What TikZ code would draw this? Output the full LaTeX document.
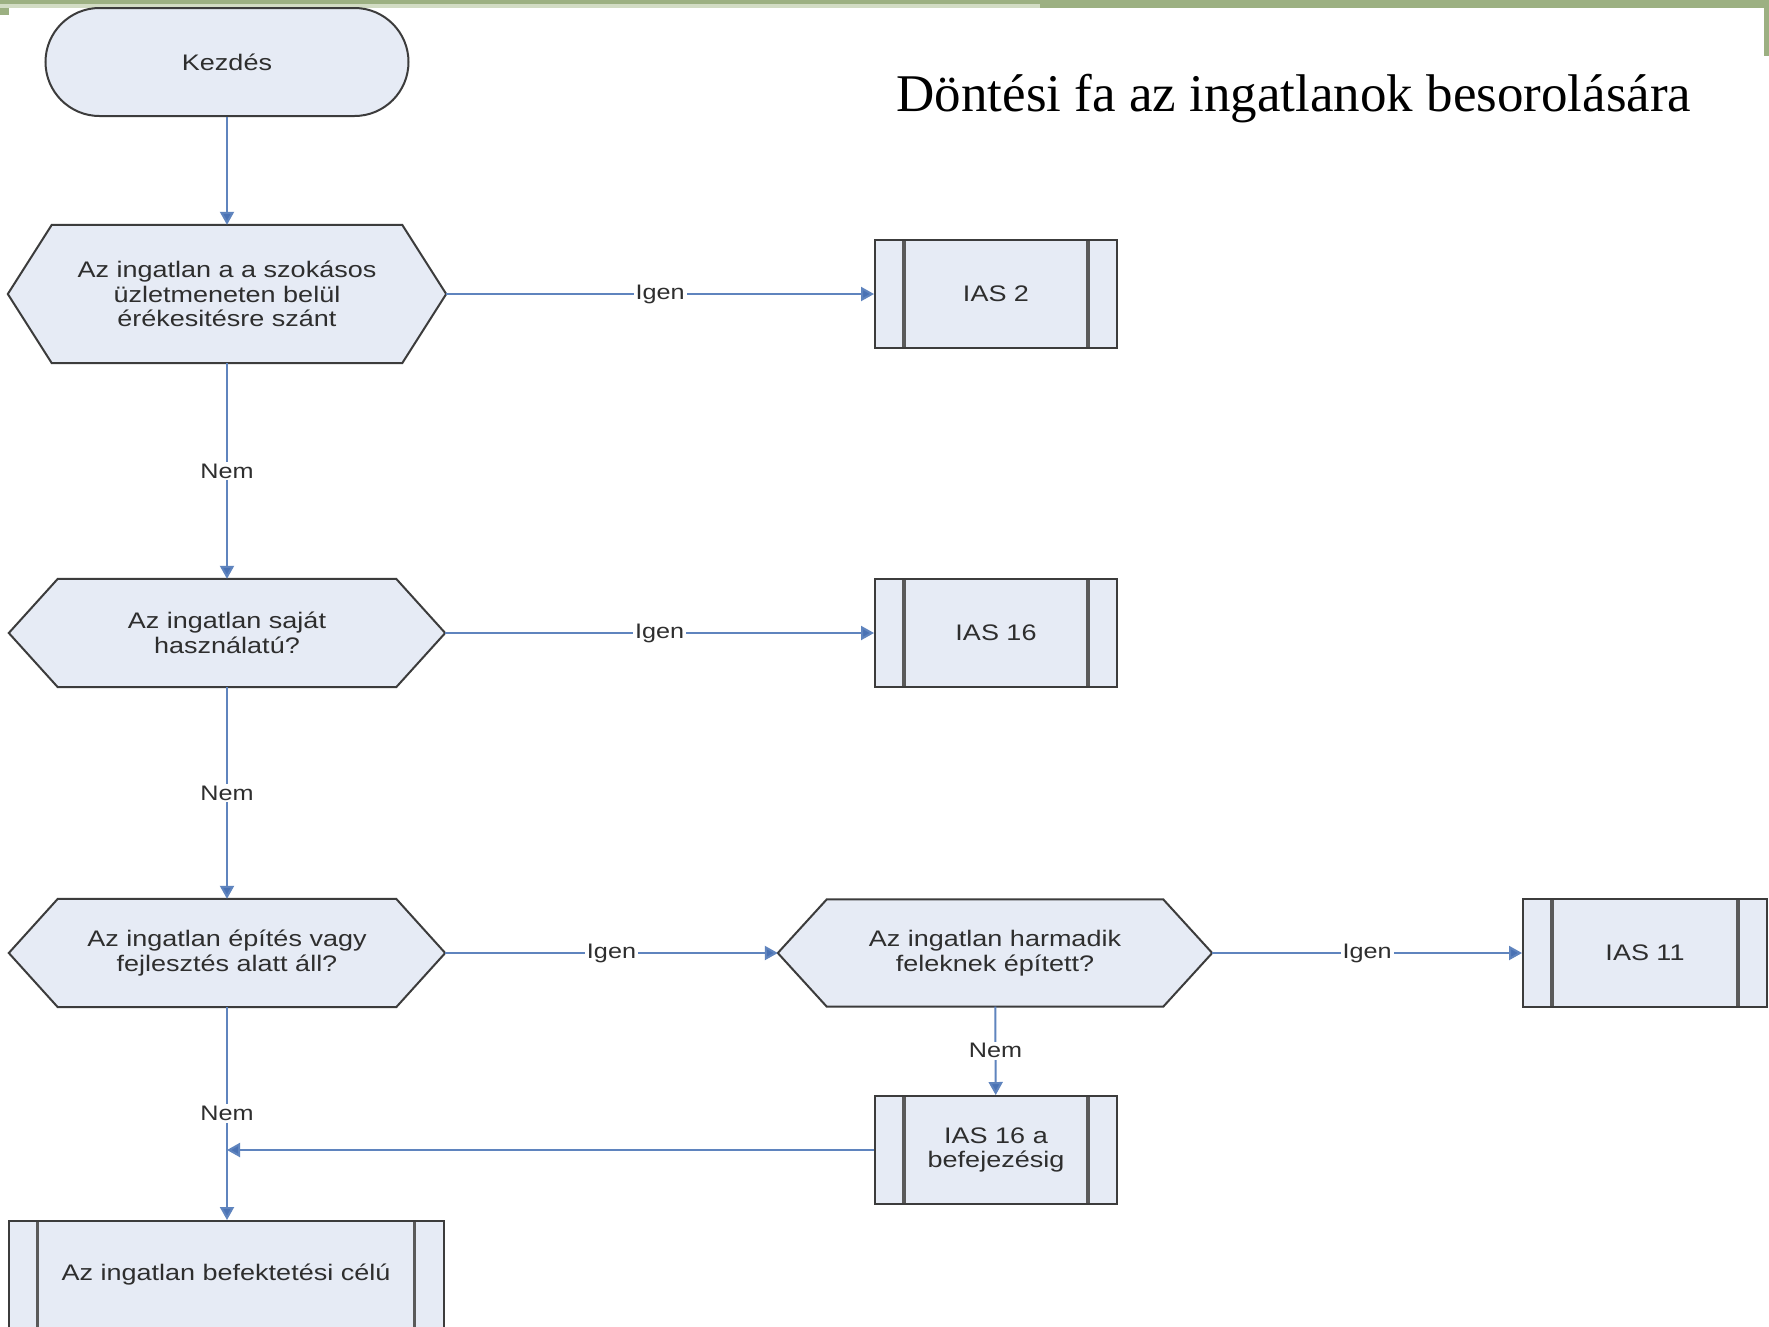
\documentclass[tikz,border=0pt]{standalone}
\usepackage{fontspec}
\setmainfont{Liberation Sans}
\newfontfamily\boxfont[FakeStretch=1.2]{Liberation Sans}
\newfontfamily\titlefont{Liberation Serif}
\usetikzlibrary{arrows.meta,backgrounds}

\definecolor{boxfill}{HTML}{E6EBF5}
\definecolor{boxline}{HTML}{3C3C3C}
\definecolor{barline}{HTML}{5A5A5A}
\definecolor{flow}{HTML}{5F84BE}
\definecolor{flowtip}{HTML}{4A72B4}
\definecolor{txt}{HTML}{2E2E2E}
\definecolor{banddark}{HTML}{9CB082}
\definecolor{bandlight}{HTML}{D2DCC4}

% hexagonal decision outline around a named node
\newcommand\hexoutline[2]{%
  \filldraw[hexline] (#1.west) -- ([xshift=#2]#1.north west) -- ([xshift=-#2]#1.north east)
    -- (#1.east) -- ([xshift=-#2]#1.south east) -- ([xshift=#2]#1.south west) -- cycle;}

\begin{document}
\begin{tikzpicture}[x=1pt,y=-1pt,
  lbl/.style={text=txt, font=\boxfont\fontsize{22.5}{24.5}\selectfont, align=center},
  terminal/.style={lbl, draw=boxline, line width=2pt, fill=boxfill,
    rounded corners=54pt, minimum width=363pt, minimum height=108pt},
  decision/.style={lbl, inner sep=0pt},
  hexline/.style={draw=boxline, line width=2pt, fill=boxfill, line join=miter},
  procbox/.style={lbl, draw=boxline, line width=2pt, fill=boxfill,
    minimum width=242pt, minimum height=108pt,
    path picture={\draw[barline, line width=3.5pt]
      ([xshift=29pt]path picture bounding box.north west) -- ([xshift=29pt]path picture bounding box.south west)
      ([xshift=-29pt]path picture bounding box.north east) -- ([xshift=-29pt]path picture bounding box.south east);}},
  flow/.style={draw=flow, line width=2pt, -{Triangle[length=13pt,width=14pt,fill=flowtip]}},
  elbl/.style={text=txt, font=\boxfont\fontsize{21}{22}\selectfont, fill=white, inner sep=2pt},
]
\useasboundingbox (0,0) rectangle (1769,1326);
\clip (0,0) rectangle (1769,1326);

\begin{scope}[on background layer]
  \fill[white] (0,0) rectangle (1769,1326);
  % banner along the top edge
  \fill[banddark] (0,0) rectangle (1769,8);
  \fill[bandlight] (0,3.5) rectangle (1040,8);
  \fill[banddark] (0,8) rectangle (9,15);
  \fill[banddark] (1764,0) rectangle (1769,56);
\end{scope}

% title
\node[font=\titlefont\fontsize{53}{60}\selectfont, text=black, anchor=base] (title)
  at (1294,111) {Döntési fa az ingatlanok besorolására};

% flow nodes
\node[terminal] (start) at (227,62) {Kezdés};

\node[decision, minimum width=438pt, minimum height=138pt] (q1) at (227,294)
  {Az ingatlan a a szokásos\\üzletmeneten belül\\érékesitésre szánt};
\node[procbox] (ias2) at (996,294) {IAS 2};

\node[decision, minimum width=436pt, minimum height=108pt] (q2) at (227,633)
  {Az ingatlan saját\\használatú?};
\node[procbox] (ias16) at (996,633) {IAS 16};

\node[decision, minimum width=436pt, minimum height=108pt] (q3) at (227,953)
  {Az ingatlan építés vagy\\fejlesztés alatt áll?};
\node[decision, minimum width=434pt, minimum height=107pt] (q4) at (995,953)
  {Az ingatlan harmadik\\feleknek épített?};
\node[procbox, minimum width=244pt] (ias11) at (1645,953) {IAS 11};

\node[procbox] (ias16a) at (996,1150) {IAS 16 a\\befejezésig};
\node[procbox, minimum width=435pt] (invest) at (226,1275) {Az ingatlan befektetési célú};

\begin{scope}[on background layer]
  \hexoutline{q1}{44pt}
  \hexoutline{q2}{49pt}
  \hexoutline{q3}{49pt}
  \hexoutline{q4}{49pt}
\end{scope}

% connectors
\draw[flow] (start) -- (q1);
\draw[flow] (q1) -- node[elbl] (y1) {Igen} (ias2);
\draw[flow] (q1) -- node[elbl] (n1) {Nem} (q2);
\draw[flow] (q2) -- node[elbl] (y2) {Igen} (ias16);
\draw[flow] (q2) -- node[elbl] (n2) {Nem} (q3);
\draw[flow] (q3) -- node[elbl] (y3) {Igen} (q4);
\draw[flow] (q4) -- node[elbl] (y4) {Igen} (ias11);
\draw[flow] (q4) -- node[elbl] (n4) {Nem} (ias16a);
\draw[flow] (q3) -- node[elbl] (n3) {Nem} (invest.north -| q3.south);
\coordinate (merge) at (q3.south |- ias16a.west);
\draw[flow] (ias16a) -- (merge);
\end{tikzpicture}
\end{document}
